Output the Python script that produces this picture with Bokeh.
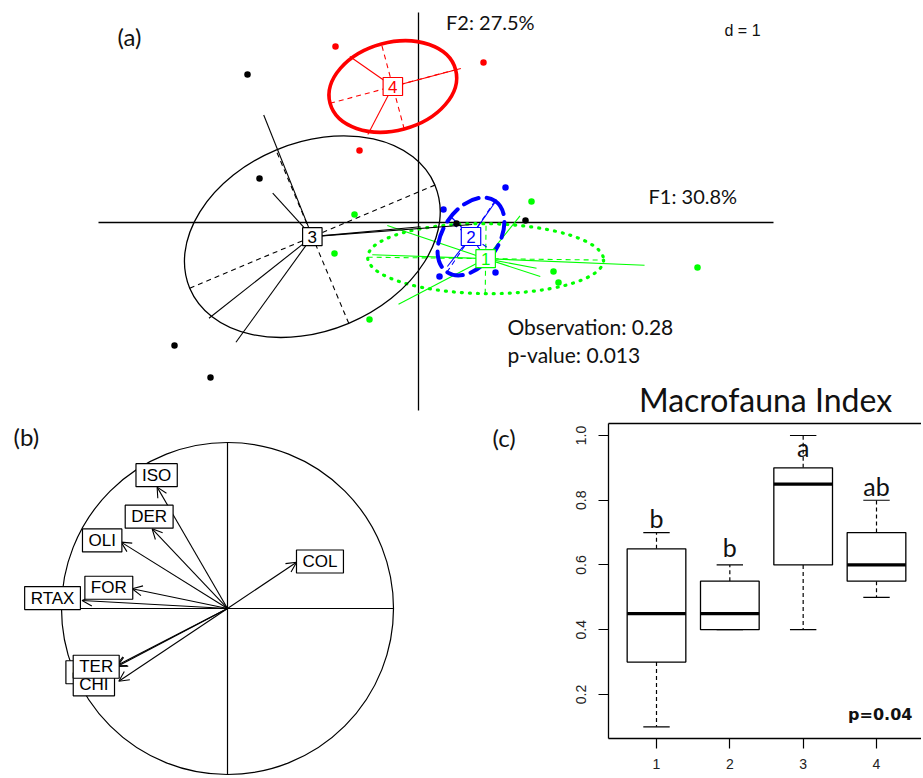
import math
from bokeh.plotting import figure
from bokeh.layouts import column, row
from bokeh.models import (ColumnDataSource, Range1d, Label, Arrow, OpenHead,
                          LinearAxis, FixedTicker)
from bokeh.core.properties import value
from bokeh.embed import file_html
from bokeh.resources import INLINE

# ---------------- Panel (a): between-class factorial map ----------------
group_names = ["1", "2", "3", "4"]
group_colors = ["#00ff00", "#0000ff", "#000000", "#ff0000"]
g1_x = [-0.64, 1.13, -0.84, -0.49, 1.35, 1.40, 2.79]
g1_y = [0.08, 0.21, -0.31, -0.97, -0.49, -0.60, -0.45]
g2_x = [0.87, 0.25, 0.21, 0.77]
g2_y = [0.35, 0.13, -0.54, -0.50]
g3_x = [-1.71, -1.59, -2.44, -2.08, 1.07, 0.38]
g3_y = [1.48, 0.44, -1.23, -1.55, 0.02, -0.01]
g4_x = [-0.83, 0.65, -0.59]
g4_y = [1.76, 1.60, 0.72]
ell_a = [1.18, 0.43, 1.33, 0.65]
ell_b = [0.35, 0.28, 0.94, 0.44]
ell_angle_deg = [-0.7, 56.0, 22.8, 15.0]
a_xlim = [-3.20, 3.55]
a_ylim = [-1.88, 2.10]
f1_label = "F1: 30.8%"
f2_label = "F2: 27.5%"
obs_label = "Observation: 0.28"
pval_label = "p-value: 0.013"

# ---------------- Panel (b): correlation circle ----------------
var_names = ["ISO", "DER", "OLI", "FOR", "RTAX", "COL", "DIP", "CHI", "TER"]
var_x = [-0.424, -0.454, -0.641, -0.574, -0.876, 0.416, -0.670, -0.655, -0.665]
var_y = [0.731, 0.480, 0.400, 0.119, 0.048, 0.279, -0.345, -0.438, -0.349]
lab_x = [-0.427, -0.472, -0.755, -0.715, -1.054, 0.557, -0.852, -0.805, -0.791]
lab_y = [0.803, 0.553, 0.410, 0.125, 0.063, 0.283, -0.384, -0.457, -0.351]

# ---------------- Panel (c): Macrofauna Index boxplot ----------------
box_groups = [1, 2, 3, 4]
whisk_lo = [0.10, 0.40, 0.40, 0.50]
q1 = [0.30, 0.40, 0.60, 0.55]
med = [0.45, 0.45, 0.85, 0.60]
q3 = [0.65, 0.55, 0.90, 0.70]
whisk_hi = [0.70, 0.60, 1.00, 0.80]
letters = ["b", "b", "a", "ab"]
letter_y = [0.745, 0.657, 0.963, 0.844]
y_ticks = [0.2, 0.4, 0.6, 0.8, 1.0]
c_title = "Macrofauna Index"
c_pval = "p=0.04"

CAL = "Lato"
ARIAL = "Liberation Sans"
INK = "#111111"

# ======================= figure (a) (top strip) =======================
A_W, A_H = 921, 420
A_SCALE = 100.0
ax_start, ay_end = -4.18, 2.22
fa = figure(width=A_W, height=A_H, output_backend="svg", toolbar_location=None,
            x_range=Range1d(ax_start, ax_start + A_W / A_SCALE),
            y_range=Range1d(ay_end - A_H / A_SCALE, ay_end),
            x_axis_type=None, y_axis_type=None, min_border=0, frame_align=False)
fa.outline_line_color = None
fa.grid.visible = False

fa.segment(x0=[a_xlim[0], 0], y0=[0, a_ylim[0]], x1=[a_xlim[1], 0], y1=[0, a_ylim[1]],
           line_color="black", line_width=1.3)

gx = [g1_x, g2_x, g3_x, g4_x]
gy = [g1_y, g2_y, g3_y, g4_y]
STAR = 0.75
ell_dash = ["1 7", "16 8", "solid", "solid"]
ell_width = [3.2, 4.0, 1.3, 3.6]
cx = [sum(v) / len(v) for v in gx]
cy = [sum(v) / len(v) for v in gy]

for i in range(4):
    col = group_colors[i]
    xs, ys = gx[i], gy[i]
    fa.scatter(xs, ys, size=6.5, color=col, line_color=None)
    fa.segment(x0=[cx[i]] * len(xs), y0=[cy[i]] * len(ys),
               x1=[cx[i] + STAR * (x - cx[i]) for x in xs],
               y1=[cy[i] + STAR * (y - cy[i]) for y in ys],
               line_color=col, line_width=1.1)
    th = math.radians(ell_angle_deg[i])
    fa.ellipse(x=[cx[i]], y=[cy[i]], width=[2 * ell_a[i]], height=[2 * ell_b[i]],
               angle=[th], fill_color=None, line_color=col, line_width=ell_width[i],
               line_dash=ell_dash[i], line_cap="round")
    ux, uy = math.cos(th), math.sin(th)
    fa.segment(x0=[cx[i] - ell_a[i] * ux, cx[i] + ell_b[i] * uy],
               y0=[cy[i] - ell_a[i] * uy, cy[i] - ell_b[i] * ux],
               x1=[cx[i] + ell_a[i] * ux, cx[i] - ell_b[i] * uy],
               y1=[cy[i] + ell_a[i] * uy, cy[i] + ell_b[i] * ux],
               line_color=col, line_width=1.1, line_dash="5 4")

src_a = ColumnDataSource(dict(x=cx, y=cy, name=group_names, color=group_colors))
fa.text(x="x", y="y", text="name", source=src_a, text_color="color",
        text_font=value(ARIAL), text_font_size="17px", text_align="center",
        text_baseline="middle", background_fill_color="white",
        border_line_color="color", border_line_width=1.2,
        padding=dict(left=5, right=5, top=3, bottom=3))

for txt, x, y, font, size, align in [
    ("(a)", -2.89, 1.857, CAL, "24px", "center"),
    (f2_label, 0.275, 2.003, CAL, "20px", "left"),
    ("d = 1", 3.06, 1.917, ARIAL, "16px", "left"),
    (f1_label, 2.30, 0.265, CAL, "20px", "left"),
    (obs_label, 0.89, -1.043, CAL, "21px", "left"),
    (pval_label, 0.89, -1.317, CAL, "21px", "left"),
    (c_title, 3.47, -1.765, CAL, "32px", "center"),
]:
    fa.add_layout(Label(x=x, y=y, text=txt, text_font=font, text_font_size=size,
                        text_align=align, text_baseline="middle", text_color=INK))

# ======================= figure (b) =======================
B_W, B_H = 560, 356
B_SCALE = 166.0
bx_start, by_end = -1.3675, 1.1325
fb = figure(width=B_W, height=B_H, output_backend="svg", toolbar_location=None,
            x_range=Range1d(bx_start, bx_start + B_W / B_SCALE),
            y_range=Range1d(by_end - B_H / B_SCALE, by_end),
            x_axis_type=None, y_axis_type=None, min_border=0, frame_align=False)
fb.outline_line_color = None
fb.grid.visible = False

fb.circle(x=[0], y=[0], radius=[1.0], fill_color=None, line_color="black", line_width=1.2)
fb.segment(x0=[-1, 0], y0=[0, -1], x1=[1, 0], y1=[0, 1], line_color="black", line_width=1.2)

src_b = ColumnDataSource(dict(x0=[0.0] * len(var_names), y0=[0.0] * len(var_names),
                              vx=var_x, vy=var_y, lx=lab_x, ly=lab_y, name=var_names))
fb.add_layout(Arrow(x_start="x0", y_start="y0", x_end="vx", y_end="vy", source=src_b,
                    line_width=1.1, level="underlay",
                    end=OpenHead(size=10, line_width=1.1)))
fb.text(x="lx", y="ly", text="name", source=src_b, text_font=value(ARIAL),
        text_font_size="17px", text_align="center", text_baseline="middle",
        background_fill_color="white", border_line_color="black", border_line_width=1.2,
        padding=dict(left=6, right=6, top=2, bottom=2))
fb.add_layout(Label(x=-1.212, y=1.037, text="(b)", text_font=CAL, text_font_size="24px",
                    text_align="center", text_baseline="middle", text_color=INK))
fb.add_layout(Label(x=1.666, y=1.030, text="(c)", text_font=CAL, text_font_size="24px",
                    text_align="center", text_baseline="middle", text_color=INK))

# ======================= figure (c) =======================
C_W, C_H = 361, 356
fc = figure(width=C_W, height=C_H, output_backend="svg", toolbar_location=None,
            x_range=Range1d(0.3455, 4.6136), y_range=Range1d(0.064, 1.037),
            min_border_left=48, min_border_top=3, min_border_bottom=38, min_border_right=0,
            frame_align=False)
fc.outline_line_color = None
fc.grid.visible = False

fc.xaxis.ticker = FixedTicker(ticks=box_groups)
fc.yaxis.ticker = FixedTicker(ticks=y_ticks)
fc.yaxis.major_label_overrides = {t: f"{t:.1f}" for t in y_ticks}
fc.yaxis.major_label_orientation = "vertical"
for ax in (fc.xaxis[0], fc.yaxis[0]):
    ax.major_tick_out = 10
    ax.major_tick_in = 0
    ax.minor_tick_out = 0
    ax.minor_tick_in = 0
    ax.axis_line_width = 1.3
    ax.major_tick_line_width = 1.2
    ax.major_label_text_font = ARIAL
    ax.major_label_text_font_size = "14px"
    ax.major_label_text_color = "#222222"
fc.xaxis.major_label_standoff = 10
fc.yaxis.major_label_standoff = 12
top_axis = LinearAxis(ticker=FixedTicker(ticks=[]), major_tick_out=0, major_tick_in=0,
                      minor_tick_out=0, minor_tick_in=0, major_label_text_font_size="0px",
                      axis_line_width=1.3)
fc.add_layout(top_axis, "above")

fc.segment(x0=box_groups + box_groups, y0=q3 + q1, x1=box_groups + box_groups,
           y1=whisk_hi + whisk_lo, line_color="black", line_width=1.2, line_dash="4 3")
CAP = 0.18
fc.segment(x0=[g - CAP for g in box_groups] * 2, y0=whisk_hi + whisk_lo,
           x1=[g + CAP for g in box_groups] * 2, y1=whisk_hi + whisk_lo,
           line_color="black", line_width=1.2)
fc.vbar(x=box_groups, width=0.8, bottom=q1, top=q3, fill_color="white",
        line_color="black", line_width=1.3)
fc.segment(x0=[g - 0.4 for g in box_groups], y0=med, x1=[g + 0.4 for g in box_groups],
           y1=med, line_color="black", line_width=3.2)
fc.text(x=box_groups, y=letter_y, text=letters, text_font=value(CAL), text_font_size="25px",
        text_align="center", text_baseline="middle", text_color=INK)
fc.add_layout(Label(x=4.49, y=0.138, text=c_pval, text_font="DejaVu Sans",
                    text_font_style="bold", text_font_size="16px", text_align="right",
                    text_baseline="middle", text_color=INK))

layout = column(fa, row(fb, fc))
open("out.html", "w").write(file_html(layout, INLINE))
